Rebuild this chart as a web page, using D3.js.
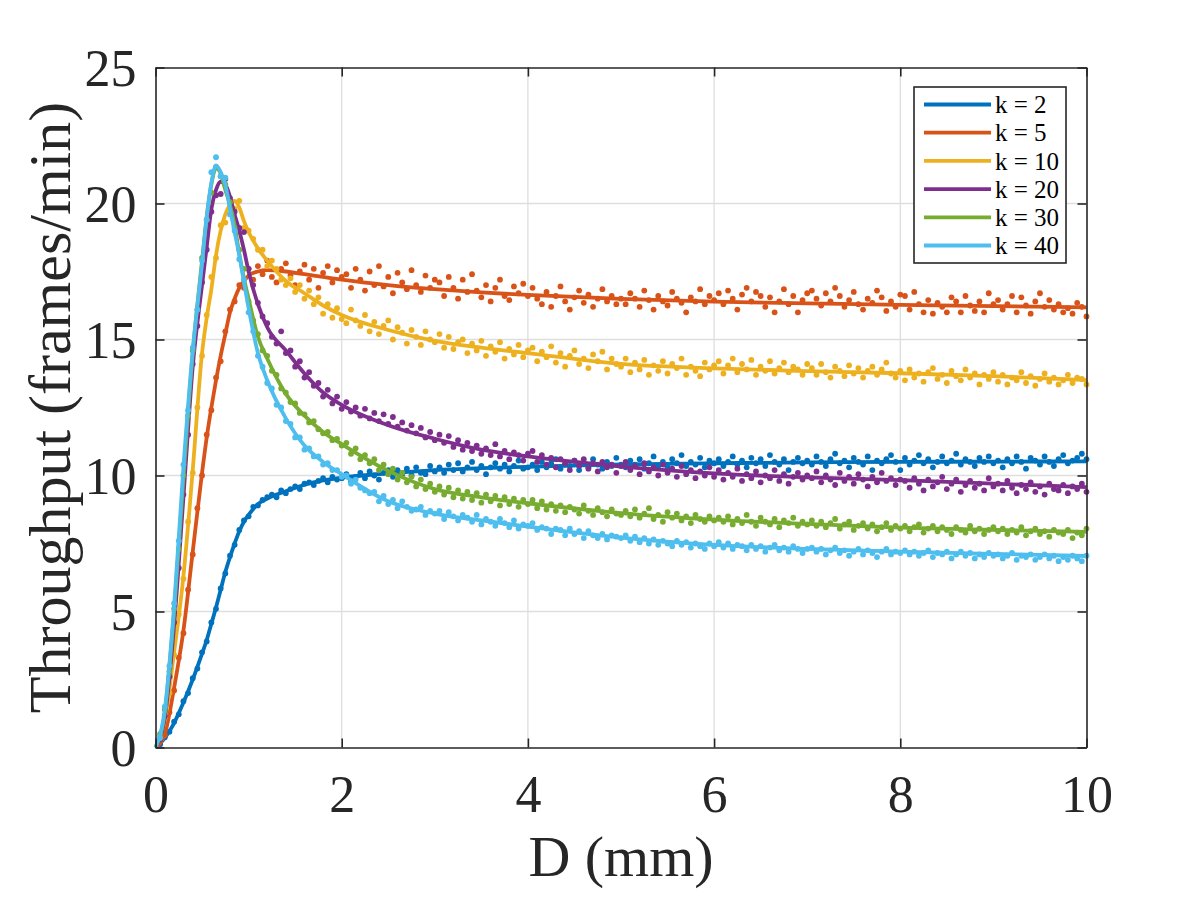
<!DOCTYPE html>
<html>
<head>
<meta charset="utf-8">
<script src="https://cdn.jsdelivr.net/npm/d3@7"></script>
<style>
  html, body { margin: 0; padding: 0; background: #fff; }
  svg { display: block; font-family: "Liberation Serif", "Times New Roman", serif; }
</style>
</head>
<body>
<script>
const width = 1200;
const height = 900;
const margin = { top: 67.5, right: 113.5, bottom: 152.5, left: 155.5 };

const seriesNames = ["k = 2", "k = 5", "k = 10", "k = 20", "k = 30", "k = 40"];
const seriesColors = ["#0072BD", "#D95319", "#EDB120", "#7E2F8E", "#77AC30", "#4DBEEE"];
const xTicks = [0, 2, 4, 6, 8, 10];
const yTicks = [0, 5, 10, 15, 20, 25];

// measured samples, one every 0.05 mm starting at 0.05
const dotStep = 0.05;

// fitted curves, knots
const fitX = [0, 0.1, 0.2, 0.3, 0.4, 0.5, 0.55, 0.6, 0.65, 0.7, 0.75, 0.8, 0.85, 0.9, 0.95, 1.0,
  1.1, 1.2, 1.4, 1.6, 1.8, 2.0, 2.5, 3, 3.5, 4, 5, 6, 7, 8, 9, 10];
const fitK2 = [0, 0.35, 0.9, 1.65, 2.5, 3.45, 3.95, 4.55, 5.15, 5.8, 6.45, 7.0, 7.5, 7.95, 8.3, 8.55,
  8.95, 9.15, 9.42, 9.66, 9.82, 9.92, 10.08, 10.2, 10.27, 10.32, 10.41, 10.45, 10.48, 10.5, 10.51, 10.52];
const fitK5 = [0, 0.5, 2.2, 4.3, 7.2, 10.1, 11.4, 12.5, 13.5, 14.4, 15.2, 16.0, 16.5, 16.9, 17.15, 17.35,
  17.5, 17.55, 17.5, 17.4, 17.3, 17.2, 17.0, 16.85, 16.73, 16.64, 16.49, 16.39, 16.33, 16.27, 16.23, 16.18];
const fitK10 = [0, 1.0, 3.5, 6.3, 10.2, 14.5, 15.8, 16.85, 18.1, 19.0, 19.6, 19.95, 20.1, 19.85, 19.35, 18.95,
  18.35, 17.9, 17.15, 16.7, 16.25, 15.9, 15.35, 14.95, 14.7, 14.5, 14.1, 13.94, 13.84, 13.76, 13.65, 13.51];
const fitK20 = [0, 1.1, 4.5, 9.2, 14.0, 17.0, 18.4, 19.8, 20.5, 20.8, 20.7, 20.25, 19.6, 19.0, 18.3, 17.5,
  16.3, 15.45, 14.6, 13.75, 13.05, 12.6, 11.85, 11.35, 10.95, 10.7, 10.33, 10.08, 9.93, 9.83, 9.7, 9.57];
const fitK30 = [0, 1.3, 5.0, 9.9, 14.5, 17.9, 19.5, 20.7, 21.3, 21.1, 20.5, 19.95, 19.2, 18.15, 17.25, 16.5,
  15.1, 14.3, 13.0, 12.2, 11.6, 11.15, 10.17, 9.5, 9.2, 8.98, 8.62, 8.38, 8.22, 8.08, 8.0, 7.93];
const fitK40 = [0, 1.4, 5.2, 10.3, 14.6, 17.8, 19.5, 20.75, 21.4, 21.15, 20.7, 19.8, 18.95, 18.1, 17.1, 16.15,
  14.5, 13.5, 12.1, 11.1, 10.5, 10.05, 9.05, 8.6, 8.35, 8.12, 7.72, 7.45, 7.3, 7.2, 7.12, 7.04];

const dotsK2 = [
  0.12, 0.38, 0.58, 0.95, 1.22, 1.7, 2.0, 2.55, 2.9, 3.5, 3.9, 4.6, 5.1, 5.85, 6.4, 7.05, 7.45, 8.0, 8.35, 8.5,
  8.85, 8.9, 9.1, 9.2, 9.3, 9.2, 9.45, 9.35, 9.5, 9.6, 9.5, 9.7, 9.75, 9.65, 9.8, 9.9, 9.75, 9.95, 9.85, 9.9,
  10.05, 9.8, 9.95, 10.1, 9.9, 10.15, 10.0, 9.85, 10.1, 10.2, 9.95, 10.2, 10.05, 10.25, 10.0, 10.3, 10.1, 10.05, 10.35, 10.15,
  10.3, 10.1, 10.4, 10.2, 10.45, 10.15, 10.3, 10.5, 10.2, 10.35, 10.05, 10.3, 10.45, 10.25, 10.4, 10.15, 10.35, 10.55, 10.25, 10.3,
  10.4, 10.2, 10.5, 10.3, 10.45, 10.6, 10.25, 10.4, 10.35, 10.55, 10.2, 10.45, 10.3, 10.6, 10.4, 10.25, 10.5, 10.35, 10.65, 10.4,
  10.3, 10.55, 10.4, 10.6, 10.25, 10.45, 10.7, 10.35, 10.5, 10.3, 10.6, 10.45, 10.75, 10.35, 10.5, 10.4, 10.65, 10.3, 10.55, 10.45,
  10.6, 10.35, 10.5, 10.7, 10.4, 10.55, 10.3, 10.65, 10.45, 10.6, 10.35, 10.75, 10.5, 10.4, 10.6, 10.2, 10.5, 10.65, 10.45, 10.55,
  10.4, 10.7, 10.5, 10.35, 10.6, 10.8, 10.45, 10.55, 10.3, 10.65, 10.5, 10.4, 10.7, 10.2, 10.55, 10.45, 10.6, 10.75, 10.5, 10.2,
  10.65, 10.4, 10.55, 10.75, 10.45, 10.6, 10.3, 10.5, 10.7, 10.45, 10.55, 10.8, 10.4, 10.6, 10.5, 10.35, 10.65, 10.5, 10.7, 10.45,
  10.55, 10.3, 10.6, 10.45, 10.7, 10.5, 10.25, 10.65, 10.55, 10.4, 10.7, 10.5, 10.35, 10.6, 10.75, 10.45, 10.55, 10.65, 10.8, 10.6
];
const dotsK5 = [
  0.25, 0.45, 1.3, 2.1, 3.3, 4.2, 5.8, 7.1, 8.8, 10.0, 11.5, 12.4, 13.6, 14.2, 15.3, 16.1, 16.4, 17.0, 16.9, 17.6,
  17.2, 17.7, 17.4, 17.9, 17.3, 17.1, 17.6, 17.8, 17.35, 17.0, 17.5, 17.75, 17.2, 17.6, 16.9, 17.45, 17.7, 17.1, 17.55, 17.3,
  17.4, 16.9, 17.6, 17.2, 16.8, 17.5, 17.0, 17.7, 16.95, 17.3, 16.7, 17.45, 17.1, 16.85, 17.55, 17.0, 16.75, 17.35, 16.9, 17.2,
  17.1, 16.6, 17.3, 16.9, 16.5, 17.2, 16.75, 17.4, 16.8, 16.55, 17.0, 16.4, 16.9, 17.2, 16.6, 16.45, 16.95, 16.7, 17.05, 16.6,
  16.9, 16.5, 16.3, 16.75, 16.2, 16.6, 16.95, 16.4, 16.1, 16.55, 16.8, 16.35, 16.65, 16.2, 16.5, 16.85, 16.4, 16.6, 16.3, 16.5,
  16.3, 16.7, 16.5, 16.2, 16.8, 16.45, 16.1, 16.6, 16.4, 16.25, 16.75, 16.5, 16.35, 16.0, 16.55, 16.4, 16.85, 16.3, 16.6, 16.45,
  16.7, 16.3, 16.8, 16.5, 16.1, 16.65, 16.9, 16.4, 16.75, 16.6, 16.2, 16.55, 16.0, 16.4, 16.85, 16.3, 16.6, 16.0, 16.45, 16.7,
  16.8, 16.5, 16.25, 16.7, 16.4, 16.9, 16.6, 16.2, 16.45, 16.75, 16.3, 16.1, 16.5, 16.35, 16.8, 16.55, 16.05, 16.4, 16.2, 16.65,
  16.6, 16.1, 16.75, 16.3, 16.0, 16.45, 15.95, 16.35, 16.2, 16.0, 16.55, 16.4, 16.0, 16.6, 16.25, 16.05, 16.4, 16.0, 16.7, 16.3,
  16.45, 16.1, 16.3, 16.6, 16.0, 16.55, 16.25, 15.95, 16.4, 16.7, 16.2, 16.45, 16.1, 16.3, 16.0, 16.15, 15.95, 16.35, 16.2, 15.85
];
const dotsK10 = [
  0.45, 1.1, 2.0, 3.4, 4.9, 6.2, 8.3, 10.1, 12.5, 14.4, 15.9, 17.3, 18.0, 19.2, 19.3, 19.9, 19.8, 20.1, 19.1, 19.0,
  18.7, 18.3, 18.3, 17.7, 17.9, 17.6, 17.2, 17.0, 17.25, 16.75, 17.0, 16.5, 16.8, 16.3, 16.55, 15.95, 16.3, 15.8, 16.15, 15.75,
  15.6, 16.1, 15.7, 15.5, 15.9, 15.3, 15.65, 15.2, 15.5, 15.7, 15.0, 15.45, 15.25, 14.85, 15.35, 15.1, 14.8, 15.3, 15.0, 14.9,
  15.2, 14.7, 15.1, 14.65, 14.9, 15.0, 14.5, 14.85, 14.6, 14.95, 14.4, 14.75, 14.55, 14.9, 14.3, 14.65, 14.45, 14.8, 14.35, 14.6,
  14.7, 14.2, 14.55, 14.35, 14.75, 14.15, 14.5, 14.0, 14.4, 14.6, 14.1, 14.3, 13.95, 14.45, 14.2, 14.55, 13.9, 14.3, 14.1, 14.0,
  14.3, 13.8, 14.15, 13.9, 14.25, 13.7, 14.05, 13.85, 14.2, 13.75, 14.1, 13.95, 14.3, 13.7, 14.0, 13.85, 13.65, 14.15, 13.9, 14.05,
  14.2, 13.75, 14.05, 14.3, 13.8, 14.1, 13.9, 14.25, 13.7, 14.0, 13.85, 14.2, 13.75, 13.95, 14.15, 13.8, 14.0, 13.9, 13.7, 14.1,
  13.95, 13.7, 14.1, 13.8, 13.6, 14.0, 13.85, 13.65, 14.05, 13.75, 13.95, 13.6, 13.85, 14.0, 13.7, 13.9, 14.15, 13.75, 13.6, 13.85,
  13.5, 13.9, 13.6, 13.75, 13.45, 13.8, 13.95, 13.55, 13.7, 13.4, 13.85, 13.65, 13.5, 13.9, 13.6, 13.75, 13.35, 13.7, 13.55, 13.8,
  13.45, 13.7, 13.35, 13.6, 13.5, 13.8, 13.4, 13.65, 13.3, 13.55, 13.75, 13.45, 13.6, 13.35, 13.5, 13.7, 13.4, 13.6, 13.55, 13.35
];
const dotsK20 = [
  0.3, 1.15, 2.6, 4.6, 6.6, 9.3, 11.5, 14.1, 15.5, 17.1, 18.3, 19.7, 20.3, 20.35, 20.9, 20.2, 19.7, 19.1, 18.95, 17.6,
  17.0, 16.35, 15.85, 15.6, 15.1, 14.85, 15.3, 14.5, 14.6, 14.0, 14.2, 13.6, 13.8, 13.3, 13.4, 12.9, 13.15, 12.65, 12.9, 12.45,
  12.7, 12.35, 12.5, 12.2, 12.45, 12.1, 12.3, 12.0, 12.25, 11.9, 12.15, 11.8, 11.95, 11.65, 11.85, 11.55, 11.75, 11.4, 11.6, 11.3,
  11.5, 11.2, 11.45, 11.05, 11.3, 10.95, 11.2, 10.9, 11.1, 10.8, 11.0, 10.75, 11.15, 10.7, 10.9, 10.6, 10.85, 10.75, 10.55, 10.8,
  10.9, 10.5, 10.75, 10.4, 10.65, 10.3, 10.6, 10.45, 10.2, 10.55, 10.35, 10.6, 10.25, 10.45, 10.15, 10.5, 10.3, 10.4, 10.1, 10.35,
  10.5, 10.2, 10.35, 10.05, 10.45, 10.15, 10.3, 10.0, 10.4, 10.1, 10.25, 9.95, 10.35, 10.05, 10.2, 9.9, 10.15, 10.0, 10.3, 9.95,
  10.2, 9.85, 10.1, 9.95, 10.25, 9.8, 10.05, 9.9, 10.15, 9.75, 10.0, 9.9, 10.2, 9.8, 10.05, 9.7, 9.95, 10.1, 9.85, 10.0,
  9.9, 10.15, 9.75, 10.0, 9.85, 9.65, 10.1, 9.8, 9.95, 9.7, 10.05, 9.85, 9.6, 9.95, 9.75, 10.1, 9.8, 9.9, 9.65, 9.85,
  9.8, 9.55, 9.9, 9.7, 9.45, 9.85, 9.6, 9.75, 9.95, 9.5, 9.7, 9.85, 9.4, 9.65, 9.8, 9.55, 9.7, 9.45, 9.9, 9.6,
  9.7, 9.45, 9.8, 9.55, 9.35, 9.65, 9.5, 9.75, 9.4, 9.6, 9.3, 9.7, 9.5, 9.45, 9.65, 9.35, 9.6, 9.5, 9.7, 9.4
];
const dotsK30 = [
  0.5, 1.4, 2.8, 5.1, 7.3, 10.0, 12.2, 14.6, 16.1, 18.0, 19.4, 20.4, 21.35, 21.0, 20.7, 20.05, 19.1, 18.3, 17.6, 16.4,
  15.7, 15.2, 14.6, 14.4, 13.85, 13.7, 13.2, 13.05, 12.7, 12.65, 12.3, 12.25, 11.95, 12.0, 11.7, 11.55, 11.6, 11.3, 11.35, 11.1,
  11.2, 10.8, 11.0, 10.6, 10.75, 10.45, 10.6, 10.2, 10.4, 10.05, 10.25, 9.85, 10.1, 9.75, 9.95, 9.6, 9.85, 9.5, 9.7, 9.4,
  9.6, 9.3, 9.55, 9.2, 9.45, 9.15, 9.4, 9.1, 9.35, 9.0, 9.3, 9.05, 9.25, 8.9, 9.2, 8.95, 9.15, 8.85, 9.1, 8.95,
  9.1, 8.8, 9.05, 8.75, 8.95, 8.7, 8.9, 8.65, 8.85, 8.75, 8.6, 8.9, 8.7, 8.55, 8.8, 8.65, 8.5, 8.75, 8.6, 8.55,
  8.7, 8.5, 8.75, 8.45, 8.6, 8.8, 8.4, 8.55, 8.3, 8.65, 8.45, 8.6, 8.35, 8.5, 8.25, 8.55, 8.4, 8.3, 8.5, 8.35,
  8.45, 8.3, 8.5, 8.2, 8.4, 8.25, 8.55, 8.3, 8.15, 8.45, 8.3, 8.2, 8.4, 8.1, 8.35, 8.25, 8.45, 8.15, 8.3, 8.2,
  8.35, 8.15, 8.3, 8.1, 8.25, 8.4, 8.05, 8.2, 8.3, 8.0, 8.15, 8.25, 8.05, 8.2, 7.95, 8.1, 8.25, 8.0, 8.15, 8.05,
  8.15, 7.95, 8.1, 8.2, 7.9, 8.05, 8.15, 7.95, 8.1, 8.0, 7.85, 8.1, 8.0, 7.9, 8.15, 7.95, 8.05, 7.85, 8.0, 8.1,
  7.95, 8.05, 7.85, 8.0, 7.9, 8.1, 7.8, 7.95, 8.05, 7.85, 7.95, 7.75, 8.0, 7.9, 7.85, 8.0, 7.7, 7.9, 7.8, 8.05
];
const dotsK40 = [
  0.35, 1.5, 3.0, 5.3, 7.6, 10.4, 12.4, 14.7, 16.1, 17.9, 19.4, 21.15, 21.7, 21.0, 20.95, 19.6, 19.0, 17.95, 17.2, 16.0,
  15.3, 14.4, 14.0, 13.4, 13.2, 12.6, 12.5, 12.0, 11.9, 11.4, 11.4, 10.95, 11.0, 10.7, 10.7, 10.4, 10.45, 10.2, 10.2, 9.95,
  10.0, 9.7, 9.85, 9.55, 9.45, 9.35, 9.4, 9.05, 9.25, 8.95, 9.1, 8.8, 9.05, 8.85, 8.7, 8.75, 8.85, 8.55, 8.7, 8.6,
  8.7, 8.4, 8.65, 8.5, 8.35, 8.55, 8.45, 8.3, 8.55, 8.2, 8.4, 8.3, 8.15, 8.4, 8.25, 8.1, 8.35, 8.05, 8.2, 8.15,
  8.25, 8.0, 8.1, 8.05, 7.85, 8.05, 8.0, 7.8, 8.05, 7.85, 7.95, 7.7, 7.95, 7.8, 7.7, 7.85, 7.65, 7.8, 7.75, 7.7,
  7.8, 7.6, 7.75, 7.55, 7.7, 7.5, 7.65, 7.45, 7.6, 7.5, 7.4, 7.6, 7.45, 7.55, 7.35, 7.5, 7.4, 7.3, 7.5, 7.4,
  7.55, 7.35, 7.5, 7.3, 7.45, 7.4, 7.25, 7.45, 7.3, 7.4, 7.2, 7.35, 7.45, 7.25, 7.35, 7.2, 7.4, 7.3, 7.15, 7.3,
  7.35, 7.2, 7.3, 7.1, 7.25, 7.35, 7.15, 7.25, 7.05, 7.2, 7.3, 7.1, 7.25, 7.15, 7.0, 7.2, 7.3, 7.1, 7.2, 7.15,
  7.25, 7.1, 7.2, 7.05, 7.15, 7.25, 7.0, 7.15, 7.1, 7.2, 6.95, 7.1, 7.2, 7.05, 7.15, 6.95, 7.1, 7.0, 7.15, 7.05,
  7.1, 6.95, 7.05, 7.15, 6.9, 7.05, 7.0, 7.1, 6.9, 7.0, 7.1, 6.95, 7.05, 6.85, 7.0, 6.9, 7.05, 6.95, 6.85, 7.05
];

const fits = [fitK2, fitK5, fitK10, fitK20, fitK30, fitK40];
const dots = [dotsK2, dotsK5, dotsK10, dotsK20, dotsK30, dotsK40];

const svg = d3.select("body").append("svg")
  .attr("width", width)
  .attr("height", height);

const innerW = width - margin.left - margin.right;
const innerH = height - margin.top - margin.bottom;

const x = d3.scaleLinear().domain([0, 10]).range([margin.left, margin.left + innerW]);
const y = d3.scaleLinear().domain([0, 25]).range([margin.top + innerH, margin.top]);

const axisColor = "#262626";

// grid
const grid = svg.append("g").attr("stroke", "#dedede").attr("stroke-width", 1.3);
grid.selectAll(".gx").data(xTicks.slice(1, -1)).enter().append("line")
  .attr("x1", d => x(d)).attr("x2", d => x(d))
  .attr("y1", y(0)).attr("y2", y(25));
grid.selectAll(".gy").data(yTicks.slice(1, -1)).enter().append("line")
  .attr("x1", x(0)).attr("x2", x(10))
  .attr("y1", d => y(d)).attr("y2", d => y(d));

// series: dots then fitted line
const line = d3.line()
  .x((d, i) => x(fitX[i]))
  .y(d => y(d))
  .curve(d3.curveMonotoneX);

dots.forEach((vals, s) => {
  svg.append("g")
    .attr("fill", seriesColors[s])
    .selectAll("circle")
    .data(vals)
    .enter().append("circle")
    .attr("cx", (d, i) => x((i + 1) * dotStep))
    .attr("cy", d => y(d))
    .attr("r", 2.9);

  svg.append("path")
    .datum(fits[s])
    .attr("fill", "none")
    .attr("stroke", seriesColors[s])
    .attr("stroke-width", 3.8)
    .attr("stroke-linejoin", "round")
    .attr("d", line);
});

// axes box with inward ticks on all four sides
const tickLen = 9;
const xAxisB = d3.axisBottom(x).tickValues(xTicks).tickSize(-tickLen).tickSizeOuter(0).tickFormat(d3.format("d"));
const xAxisT = d3.axisTop(x).tickValues(xTicks).tickSize(-tickLen).tickSizeOuter(0).tickFormat("");
const yAxisL = d3.axisLeft(y).tickValues(yTicks).tickSize(-tickLen).tickSizeOuter(0).tickFormat(d3.format("d")).tickPadding(19);
const yAxisR = d3.axisRight(y).tickValues(yTicks).tickSize(-tickLen).tickSizeOuter(0).tickFormat("");

function styleAxis(g) {
  g.select(".domain").attr("stroke", axisColor).attr("stroke-width", 1.6);
  g.selectAll(".tick line").attr("stroke", axisColor).attr("stroke-width", 1.6);
  g.selectAll(".tick text")
    .attr("fill", axisColor)
    .style("font-family", "'Liberation Serif', 'Times New Roman', serif")
    .style("font-size", "52px");
}

svg.append("g").attr("transform", `translate(0,${y(0)})`).call(xAxisB).call(styleAxis)
  .selectAll(".tick text").attr("dy", null).attr("y", 64);
svg.append("g").attr("transform", `translate(0,${y(25)})`).call(xAxisT).call(styleAxis);
svg.append("g").attr("transform", `translate(${x(0)},0)`).call(yAxisL).call(styleAxis)
  .selectAll(".tick text").attr("dy", "0.34em");
svg.append("g").attr("transform", `translate(${x(10)},0)`).call(yAxisR).call(styleAxis);

// axis labels
svg.append("text")
  .attr("x", (x(0) + x(10)) / 2)
  .attr("y", 876)
  .attr("text-anchor", "middle")
  .attr("fill", axisColor)
  .style("font-size", "58px")
  .text("D (mm)");

svg.append("text")
  .attr("transform", `translate(70,${(y(0) + y(25)) / 2}) rotate(-90)`)
  .attr("text-anchor", "middle")
  .attr("fill", axisColor)
  .style("font-size", "60px")
  .text("Throughput (frames/min)");

// legend
const legend = svg.append("g").attr("transform", "translate(914,87)");
legend.append("rect")
  .attr("width", 152)
  .attr("height", 176)
  .attr("fill", "#fff")
  .attr("stroke", axisColor)
  .attr("stroke-width", 1.6);

const rows = legend.selectAll(".row").data(seriesNames).enter().append("g")
  .attr("transform", (d, i) => `translate(0,${17.5 + i * 28.2})`);
rows.append("line")
  .attr("x1", 10).attr("x2", 77)
  .attr("stroke", (d, i) => seriesColors[i])
  .attr("stroke-width", 3.8);
rows.append("text")
  .attr("x", 81)
  .attr("dy", "0.35em")
  .attr("fill", "#000")
  .style("font-size", "25px")
  .text(d => d);
</script>
</body>
</html>
